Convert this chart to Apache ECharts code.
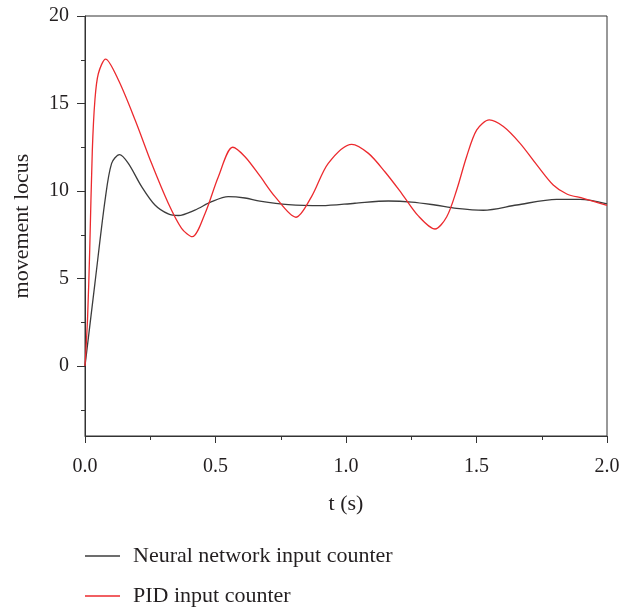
<!DOCTYPE html>
<html>
<head>
<meta charset="utf-8">
<script src="https://cdn.jsdelivr.net/npm/echarts@6/dist/echarts.min.js"></script>
<style>
  html, body { margin: 0; padding: 0; background: #fff; }
  #main { width: 632px; height: 610px; }
</style>
</head>
<body>
<div id="main"></div>
<script>
// data
const nnT = [0, 0.038, 0.077, 0.102, 0.132, 0.166, 0.217, 0.268, 0.319, 0.358, 0.421, 0.485, 0.549, 0.613, 0.67, 0.779, 0.907, 1.034, 1.162, 1.252, 1.341, 1.424, 1.526, 1.654, 1.807, 1.897, 2.0];
const nnV = [0, 4.72, 9.49, 11.58, 12.08, 11.58, 10.25, 9.2, 8.69, 8.6, 8.91, 9.39, 9.68, 9.6, 9.42, 9.22, 9.16, 9.3, 9.43, 9.37, 9.2, 9.01, 8.9, 9.2, 9.52, 9.52, 9.27];

const pidT = [0, 0.01, 0.018, 0.028, 0.038, 0.051, 0.079, 0.128, 0.192, 0.255, 0.319, 0.37, 0.411, 0.46, 0.511, 0.566, 0.613, 0.67, 0.728, 0.808, 0.868, 0.932, 1.022, 1.086, 1.149, 1.213, 1.277, 1.341, 1.386, 1.424, 1.462, 1.501, 1.549, 1.603, 1.667, 1.731, 1.794, 1.846, 1.909, 2.0];
const pidV = [0, 2.8, 6.6, 12.3, 15.2, 16.7, 17.54, 16.34, 14.06, 11.58, 9.3, 7.87, 7.39, 8.72, 10.82, 12.5, 11.96, 10.86, 9.68, 8.5, 9.68, 11.58, 12.67, 12.15, 11.1, 9.87, 8.58, 7.83, 8.53, 10.06, 11.96, 13.49, 14.06, 13.68, 12.72, 11.49, 10.34, 9.83, 9.58, 9.18];

const yMajor = [0, 5, 10, 15, 20];
const yMinor = [-2.5, 2.5, 7.5, 12.5, 17.5];

const seriesNames = ['Neural network input counter', 'PID input counter'];
const colors = ['#3c3c3c', '#ec2a2e'];

const font = 'Liberation Serif';
const ink = '#231f20';
const axisCol = '#333';

const chart = echarts.init(document.getElementById('main'));

const pairs = (ts, vs) => ts.map((t, i) => [t, vs[i]]);

const legendFor = (i, top) => ({
  left: 80, top: top,
  itemWidth: 35, itemHeight: 1.5,
  textStyle: { fontFamily: font, fontSize: 22, color: ink, padding: [0, 0, 0, 8] },
  data: [{ name: seriesNames[i], icon: 'rect', itemStyle: { color: colors[i] } }]
});

const option = {
  animation: false,
  grid: {
    left: 85, right: 25, top: 16, bottom: 174,
    show: true, borderColor: axisCol, borderWidth: 1
  },
  legend: [legendFor(0, 540), legendFor(1, 580)],
  xAxis: {
    type: 'value', min: 0, max: 2, interval: 0.5,
    name: 't (s)', nameLocation: 'middle', nameGap: 57,
    nameTextStyle: { fontFamily: font, fontSize: 22, color: ink },
    axisLine: { onZero: false, lineStyle: { color: axisCol, width: 1 } },
    axisTick: { length: 7, lineStyle: { color: axisCol } },
    minorTick: { show: true, splitNumber: 2, length: 4, lineStyle: { color: axisCol } },
    axisLabel: { fontFamily: font, fontSize: 20, color: ink, margin: 21, formatter: v => v.toFixed(1) },
    splitLine: { show: false }
  },
  yAxis: [
    {
      type: 'value', min: -4, max: 20,
      name: 'movement locus', nameLocation: 'middle', nameGap: 52,
      nameTextStyle: { fontFamily: font, fontSize: 22, color: ink },
      axisLine: { show: true, onZero: false, lineStyle: { color: axisCol, width: 1 } },
      axisTick: { show: true, length: 8, customValues: yMajor, lineStyle: { color: axisCol } },
      axisLabel: { fontFamily: font, fontSize: 20, color: ink, margin: 16, customValues: yMajor },
      splitLine: { show: false }
    },
    {
      type: 'value', min: -4, max: 20, position: 'left',
      axisLine: { show: false },
      axisTick: { show: true, length: 4, customValues: yMinor, lineStyle: { color: axisCol } },
      axisLabel: { show: false },
      splitLine: { show: false }
    }
  ],
  series: [
    {
      name: seriesNames[0], type: 'line', symbol: 'none', smooth: 0.3,
      lineStyle: { color: colors[0], width: 1.3 }, itemStyle: { color: colors[0] },
      data: pairs(nnT, nnV)
    },
    {
      name: seriesNames[1], type: 'line', symbol: 'none', smooth: 0.3,
      lineStyle: { color: colors[1], width: 1.3 }, itemStyle: { color: colors[1] },
      data: pairs(pidT, pidV)
    }
  ]
};

chart.setOption(option);
</script>
</body>
</html>
